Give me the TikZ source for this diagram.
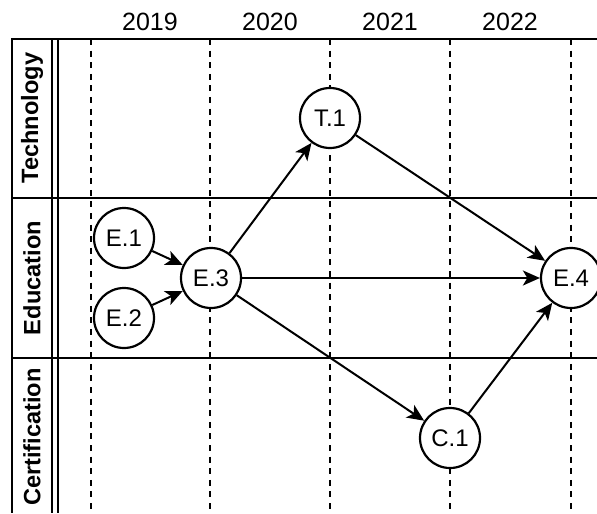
\documentclass[tikz,border=0pt]{standalone}
\usepackage{fontspec}
\setmainfont{Liberation Sans}
\usetikzlibrary{arrows.meta, positioning}

\tikzset{
    event/.style={circle, draw, line width=1.1pt, fill=white, minimum size=30pt, inner sep=0pt, font=\fontsize{12}{14}\selectfont},
    lane/.style={rotate=90, font=\fontsize{11.8}{14}\selectfont\bfseries},
    year/.style={font=\fontsize{12.5}{15}\selectfont},
    border/.style={line width=1.2pt},
    yearline/.style={dash pattern=on 3pt off 2.8pt, line width=0.9pt},
    link/.style={-{Stealth[length=8.5pt, width=7.5pt, inset=2.2pt]}, line width=1pt},
}

\begin{document}
\begin{tikzpicture}[x=0.5pt, y=-0.5pt]
                    \useasboundingbox (0, 0) rectangle (597, 513);
                    \draw[border]
                    (597, 39) -- (12, 39) -- (12, 513)
                    (52, 39) -- (52, 513)
                    (58, 39) -- (58, 513)
                    (12, 198) -- (597, 198)
                    (12, 358) -- (597, 358);
                    \node[lane] (tech) at (32, 118) {Technology};
                    \node[lane] (edu) at (32, 278) {Education};
                    \node[lane] (cert) at (32, 437) {Certification};

                    \foreach \yr/\x in {2019/150, 2020/270, 2021/390, 2022/510} {
                        \node[year] (y\yr) at (\x, 22) {\yr};
                    }
                    \foreach \x in {91, 210, 330, 450, 571} {
                        \draw[yearline] (\x, 39) -- (\x, 513);
                    }

                    \node[event] (t1) at (330, 118) {T.1};
                    \node[event] (e1) at (124, 238) {E.1};
                    \node[event] (e2) at (124, 318) {E.2};
                    \node[event] (e3) at (211, 278) {E.3};
                    \node[event] (e4) at (571, 278) {E.4};
                    \node[event] (c1) at (450, 438) {C.1};
                    \draw
                    (e1) edge[link] (e3)
                    (e2) edge[link] (e3)
                    (e3) edge[link] (t1)
                    (e3) edge[link] (e4)
                    (e3) edge[link] (c1)
                    (t1) edge[link] (e4)
                    (c1) edge[link] (e4);
                \end{tikzpicture}
\end{document}
